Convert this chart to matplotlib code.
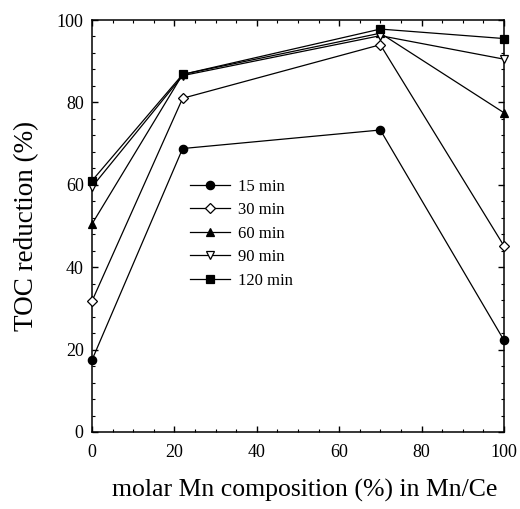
import numpy as np
import matplotlib
matplotlib.use("Agg")
import matplotlib.pyplot as plt
from matplotlib.ticker import MultipleLocator

plt.rcParams['font.family'] = ['Liberation Serif', 'DejaVu Serif']

mn_comp = [0, 22, 70, 100]
toc_15 = [17.5, 68.8, 73.3, 22.3]
toc_30 = [31.8, 81.0, 94.0, 45.2]
toc_60 = [50.5, 86.8, 96.8, 77.5]
toc_90 = [59.5, 86.5, 96.2, 90.5]
toc_120 = [61.0, 86.8, 97.8, 95.5]

series = [
    ("15 min", toc_15, 'o', 'black'),
    ("30 min", toc_30, 'D', 'white'),
    ("60 min", toc_60, '^', 'black'),
    ("90 min", toc_90, 'v', 'white'),
    ("120 min", toc_120, 's', 'black'),
]

fig = plt.figure(figsize=(5.2, 5.09), dpi=100)
ax = fig.add_axes([0.177, 0.1513, 0.792, 0.8094])

for label, vals, marker, face in series:
    ms = 5.3 if marker == 'D' else 6
    ax.plot(mn_comp, vals, color='black', lw=0.9, marker=marker, ms=ms,
            markerfacecolor=face, markeredgecolor='black', markeredgewidth=0.9,
            label=label, clip_on=False, zorder=3)

ax.set_xlim(0, 100)
ax.set_ylim(0, 100)
ax.xaxis.set_major_locator(MultipleLocator(20))
ax.xaxis.set_minor_locator(MultipleLocator(5))
ax.yaxis.set_major_locator(MultipleLocator(20))
ax.yaxis.set_minor_locator(MultipleLocator(4))
ax.tick_params(which='both', direction='in', top=True, right=True, labelsize=13)
ax.tick_params(which='major', length=4.5, width=1)
ax.tick_params(which='minor', length=2.5, width=0.8)
ax.tick_params(axis='x', which='major', pad=9)
ax.tick_params(axis='y', which='major', pad=6)
for sp in ax.spines.values():
    sp.set_linewidth(1.1)

ax.set_xlabel("molar Mn composition (%) in Mn/Ce", fontsize=18.5, labelpad=12)
ax.xaxis.set_label_coords(0.517, -0.115)
ax.xaxis.label.set_va('top')
ax.set_ylabel("TOC reduction (%)", fontsize=19.5, labelpad=13)

ax.legend(loc='upper left', bbox_to_anchor=(0.218, 0.635), frameon=False,
          fontsize=12, handlelength=2.4, handletextpad=0.5, labelspacing=0.45,
          borderpad=0)

fig.savefig("out.png", dpi=100)
